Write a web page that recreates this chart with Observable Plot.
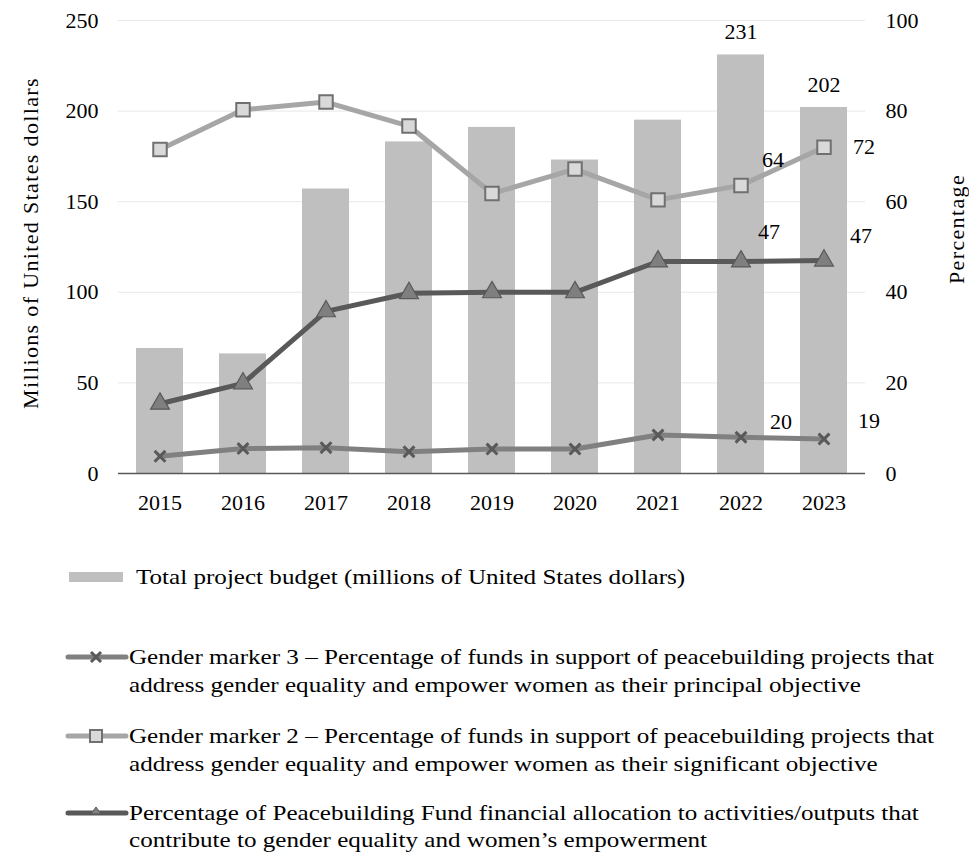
<!DOCTYPE html>
<html>
<head>
<meta charset="utf-8">
<script src="https://cdn.jsdelivr.net/npm/d3@7"></script>
<script src="https://cdn.jsdelivr.net/npm/@observablehq/plot@0.6"></script>
<style>
  html, body { margin: 0; padding: 0; background: #ffffff; }
  body { width: 969px; height: 853px; position: relative; overflow: hidden; font-family: "Liberation Serif", "Times New Roman", serif; }
  #chart { position: absolute; left: 0; top: 0; }
  .leg { position: absolute; font-size: 22px; line-height: 28px; color: #000; white-space: nowrap; transform: scaleX(1.14); transform-origin: 0 0; }
  .sw { position: absolute; }
  .ttl { letter-spacing: 1.35px; }
</style>
</head>
<body>
<div id="chart"></div>
<svg class="sw" style="left:60px;top:565px" width="70" height="24"><rect x="9" y="7" width="54" height="10" fill="#bfbfbf"/></svg>
<div class="leg" style="left:136px;top:563px">Total project budget (millions of United States dollars)</div>

<svg class="sw" style="left:60px;top:645px" width="70" height="24"><line x1="8" y1="12" x2="66" y2="12" stroke="#808080" stroke-width="5" stroke-linecap="round"/><path d="M31,7L41,17M41,7L31,17" stroke="#595959" stroke-width="3"/></svg>
<div class="leg" style="left:129px;top:643px">Gender marker 3 – Percentage of funds in support of peacebuilding projects that<br>address gender equality and empower women as their principal objective</div>

<svg class="sw" style="left:60px;top:724px" width="70" height="24"><line x1="8" y1="12" x2="66" y2="12" stroke="#a6a6a6" stroke-width="5" stroke-linecap="round"/><rect x="30" y="6" width="12" height="12" fill="#d9d9d9" stroke="#707070" stroke-width="2"/></svg>
<div class="leg" style="left:129px;top:722px">Gender marker 2 – Percentage of funds in support of peacebuilding projects that<br>address gender equality and empower women as their significant objective</div>

<svg class="sw" style="left:60px;top:801px" width="70" height="24"><line x1="8" y1="12" x2="66" y2="12" stroke="#595959" stroke-width="5" stroke-linecap="round"/><path d="M36,6L41,13L31,13Z" fill="#7f7f7f" stroke="#595959" stroke-width="1"/></svg>
<div class="leg" style="left:129px;top:799px;line-height:27px">Percentage of Peacebuilding Fund financial allocation to activities/outputs that<br>contribute to gender equality and women’s empowerment</div>

<script>
// ---- data ----
const years = ["2015","2016","2017","2018","2019","2020","2021","2022","2023"];
const budget = [69, 66, 157, 183, 191, 173, 195, 231, 202];            // millions USD
const marker2 = [71.5, 80.3, 82, 76.7, 61.8, 67.2, 60.4, 63.6, 72];    // %
const allocation = [15.4, 19.9, 35.8, 39.8, 40, 40, 46.8, 46.8, 47];   // %
const marker3 = [3.8, 5.5, 5.7, 4.8, 5.4, 5.4, 8.5, 8.0, 7.6];         // %
const leftTicks = [0, 50, 100, 150, 200, 250];
const rightTicks = [0, 20, 40, 60, 80, 100];
const budgetLabelTexts = ["231", "202"];
const marker2LabelTexts = ["64", "72"];
const allocationLabelTexts = ["47", "47"];
const marker3LabelTexts = ["20", "19"];
const labelYears = ["2022", "2023"];

const pctToLeft = 250 / 100;

const bars = years.map((y, i) => ({year: y, value: budget[i]}));
const m2 = years.map((y, i) => ({year: y, value: marker2[i] * pctToLeft}));
const al = years.map((y, i) => ({year: y, value: allocation[i] * pctToLeft}));
const m3 = years.map((y, i) => ({year: y, value: marker3[i] * pctToLeft}));

function lab(rows, texts, year) {
  const i = labelYears.indexOf(year);
  return [{...rows.find(r => r.year === year), text: texts[i]}];
}

const font = "Liberation Serif, Times New Roman, serif";

const chart = Plot.plot({
  width: 969,
  height: 530,
  marginTop: 20,
  marginBottom: 57,
  marginLeft: 118,
  marginRight: 104,
  style: {fontFamily: font, fontSize: "22px", color: "#000", background: "transparent"},
  x: {domain: years, paddingInner: 0.43, paddingOuter: 0.215, align: 0.5},
  y: {domain: [0, 250]},
  marks: [
    Plot.gridY(leftTicks.filter(d => d > 0), {stroke: "#d9d9d9", strokeOpacity: 0.6, strokeWidth: 1}),
    Plot.barY(bars, {x: "year", y: "value", fill: "#bfbfbf"}),
    Plot.ruleY([0], {stroke: "#595959", strokeWidth: 1.5}),
    Plot.axisY({ticks: leftTicks, tickSize: 0, tickPadding: 20, label: null, fontSize: 22, anchor: "left"}),
    Plot.axisY({ticks: rightTicks.map(d => d * pctToLeft), tickFormat: d => String(Math.round(d / pctToLeft)), tickSize: 0, tickPadding: 20, label: null, fontSize: 22, anchor: "right"}),
    Plot.axisX({tickSize: 0, tickPadding: 21, label: null, fontSize: 22}),
    // marker 3 line
    Plot.line(m3, {x: "year", y: "value", stroke: "#808080", strokeWidth: 5, strokeLinejoin: "round"}),
    Plot.dot(m3, {x: "year", y: "value", symbol: "times", r: 5, stroke: "#595959", strokeWidth: 3}),
    // allocation line
    Plot.line(al, {x: "year", y: "value", stroke: "#595959", strokeWidth: 5, strokeLinejoin: "round"}),
    Plot.dot(al, {x: "year", y: "value", symbol: "triangle", r: 7, fill: "#7f7f7f", stroke: "#595959", strokeWidth: 1.2}),
    // marker 2 line
    Plot.line(m2, {x: "year", y: "value", stroke: "#a6a6a6", strokeWidth: 5, strokeLinejoin: "round"}),
    Plot.dot(m2, {x: "year", y: "value", symbol: "square", r: 7.6, fill: "#d9d9d9", stroke: "#707070", strokeWidth: 2}),
    // data labels
    Plot.text(lab(bars, budgetLabelTexts, "2022"), {x: "year", y: "value", text: "text", dy: -23, fontSize: 22, fill: "#000"}),
    Plot.text(lab(bars, budgetLabelTexts, "2023"), {x: "year", y: "value", text: "text", dy: -23, fontSize: 22, fill: "#000"}),
    Plot.text(lab(m2, marker2LabelTexts, "2022"), {x: "year", y: "value", text: "text", dx: 32, dy: -25, fontSize: 22, fill: "#000"}),
    Plot.text(lab(m2, marker2LabelTexts, "2023"), {x: "year", y: "value", text: "text", dx: 40, dy: 0, fontSize: 22, fill: "#000"}),
    Plot.text(lab(al, allocationLabelTexts, "2022"), {x: "year", y: "value", text: "text", dx: 28, dy: -30, fontSize: 22, fill: "#000"}),
    Plot.text(lab(al, allocationLabelTexts, "2023"), {x: "year", y: "value", text: "text", dx: 37, dy: -25, fontSize: 22, fill: "#000"}),
    Plot.text(lab(m3, marker3LabelTexts, "2022"), {x: "year", y: "value", text: "text", dx: 40, dy: -15, fontSize: 22, fill: "#000"}),
    Plot.text(lab(m3, marker3LabelTexts, "2023"), {x: "year", y: "value", text: "text", dx: 45, dy: -18, fontSize: 22, fill: "#000"}),
    // axis titles
    Plot.text(["Millions of United States dollars"], {frameAnchor: "left", text: d => d, rotate: -90, textAnchor: "middle", dx: -88, dy: -4, fontSize: 22, fill: "#000", className: "ttl"}),
    Plot.text(["Percentage"], {frameAnchor: "right", text: d => d, rotate: -90, textAnchor: "middle", dx: 91, dy: -18, fontSize: 22, fill: "#000", className: "ttl"})
  ]
});
document.getElementById("chart").appendChild(chart);
</script>
</body>
</html>
